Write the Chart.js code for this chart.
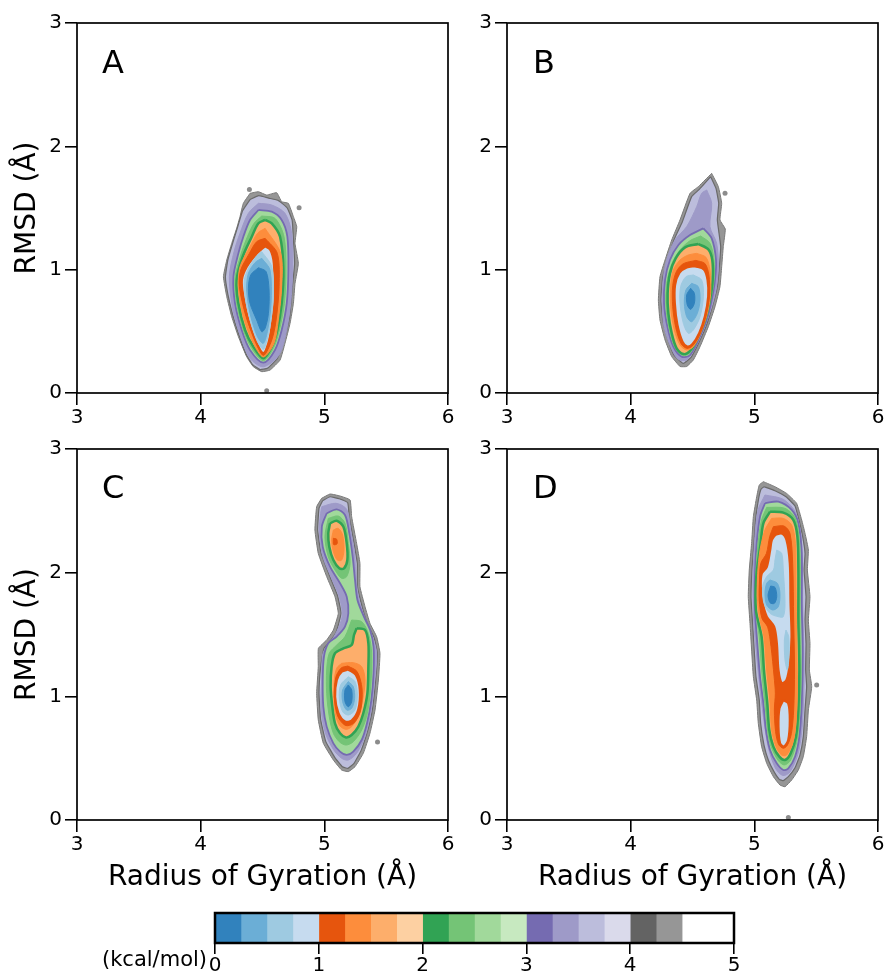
<!DOCTYPE html>
<html>
<head>
<meta charset="utf-8">
<script src="https://cdn.jsdelivr.net/npm/chart.js@4.4.1/dist/chart.umd.min.js"></script>
<style>
html,body{margin:0;padding:0;background:#fff;}
body{width:889px;height:979px;position:relative;overflow:hidden;font-family:"DejaVu Sans",sans-serif;color:#000;}
canvas{position:absolute;}
.lbl{position:absolute;font-size:32px;line-height:32px;white-space:nowrap;}
.unit{position:absolute;font-size:21px;line-height:24px;white-space:nowrap;}
</style>
</head>
<body>
<canvas id="cA" width="460" height="430" style="left:0;top:0"></canvas>
<canvas id="cB" width="429" height="430" style="left:460px;top:0"></canvas>
<canvas id="cC" width="460" height="470" style="left:0;top:430px"></canvas>
<canvas id="cD" width="429" height="470" style="left:460px;top:430px"></canvas>
<canvas id="cbar" width="560" height="79" style="left:200px;top:900px"></canvas>
<div class="lbl" style="left:102px;top:46px">A</div>
<div class="lbl" style="left:533px;top:46px">B</div>
<div class="lbl" style="left:102px;top:471px">C</div>
<div class="lbl" style="left:533px;top:471px">D</div>
<div class="unit" style="left:102px;top:947px">(kcal/mol)</div>
<script>
// ---------------- data ----------------
const xTicks = [3, 4, 5, 6];
const yTicks = [0, 1, 2, 3];
const cbTicks = [0, 1, 2, 3, 4, 5];
const xTitle = 'Radius of Gyration (Å)';
const yTitle = 'RMSD (Å)';

// free-energy band edges (kcal/mol) and their colours
const bandEdges = [0, 0.25, 0.5, 0.75, 1, 1.25, 1.5, 1.75, 2, 2.25, 2.5, 2.75, 3, 3.25, 3.5, 3.75, 4, 4.25, 4.5, 5];
const bandColors = ['#3182bd','#6baed6','#9ecae1','#c6dbef','#e6550d','#fd8d3c','#fdae6b','#fdd0a2',
                    '#31a354','#74c476','#a1d99b','#c7e9c0','#756bb1','#9e9ac8','#bcbddc','#dadaeb',
                    '#636363','#969696','#ffffff'];

// contour polygons: [level, [[Rg, RMSD], ...]]
const contoursA = [
  [4.5, [[4.399,1.619],[4.467,1.632],[4.534,1.605],[4.615,1.624],[4.655,1.551],[4.709,1.538],[4.750,1.430],[4.777,1.349],[4.763,1.213],[4.790,1.051],[4.763,0.889],[4.750,0.727],[4.723,0.565],[4.682,0.403],[4.642,0.267],[4.561,0.186],[4.494,0.173],[4.426,0.213],[4.372,0.294],[4.305,0.457],[4.251,0.619],[4.211,0.781],[4.184,0.943],[4.211,1.078],[4.251,1.213],[4.291,1.335],[4.318,1.430],[4.345,1.538]]],
  [3.75, [[4.40,1.57],[4.47,1.60],[4.55,1.58],[4.63,1.56],[4.70,1.50],[4.74,1.40],[4.75,1.25],[4.76,1.05],[4.74,0.85],[4.72,0.62],[4.67,0.42],[4.62,0.28],[4.54,0.20],[4.48,0.19],[4.42,0.23],[4.37,0.31],[4.31,0.47],[4.26,0.63],[4.22,0.80],[4.20,0.94],[4.22,1.08],[4.26,1.22],[4.30,1.35],[4.34,1.48]]],
  [3.5, [[4.467,1.538],[4.575,1.524],[4.682,1.457],[4.736,1.294],[4.744,0.997],[4.728,0.727],[4.690,0.484],[4.634,0.308],[4.507,0.213],[4.399,0.281],[4.318,0.470],[4.256,0.700],[4.232,0.943],[4.270,1.146],[4.318,1.295],[4.386,1.457]]],
  [2.75, [[4.467,1.484],[4.575,1.470],[4.655,1.403],[4.701,1.267],[4.709,0.997],[4.696,0.727],[4.655,0.511],[4.601,0.349],[4.507,0.246],[4.399,0.349],[4.332,0.511],[4.278,0.727],[4.265,0.943],[4.305,1.132],[4.345,1.267],[4.399,1.403]]],
  [2.5, [[4.494,1.435],[4.601,1.416],[4.674,1.267],[4.690,0.997],[4.677,0.727],[4.637,0.511],[4.588,0.362],[4.507,0.262],[4.413,0.362],[4.345,0.511],[4.291,0.727],[4.278,0.930],[4.324,1.119],[4.378,1.267],[4.432,1.376]]],
  [1.75, [[4.521,1.403],[4.575,1.376],[4.642,1.267],[4.669,0.997],[4.655,0.727],[4.620,0.511],[4.575,0.376],[4.507,0.281],[4.426,0.376],[4.359,0.511],[4.305,0.727],[4.291,0.916],[4.340,1.105],[4.413,1.267],[4.467,1.376]]],
  [1.5, [[4.521,1.335],[4.647,1.132],[4.655,0.862],[4.628,0.592],[4.593,0.403],[4.507,0.292],[4.426,0.403],[4.345,0.619],[4.305,0.862],[4.318,1.024],[4.399,1.186],[4.459,1.294]]],
  [1.25, [[4.521,1.254],[4.620,1.132],[4.634,0.862],[4.610,0.592],[4.575,0.430],[4.507,0.305],[4.440,0.430],[4.367,0.619],[4.313,0.862],[4.324,0.997],[4.394,1.132],[4.453,1.227]]],
  [1.0, [[4.521,1.192],[4.566,1.159],[4.593,1.051],[4.601,0.781],[4.575,0.538],[4.548,0.403],[4.507,0.322],[4.453,0.403],[4.386,0.592],[4.345,0.781],[4.332,0.916],[4.372,1.024],[4.453,1.132]]],
  [0.75, [[4.494,1.146],[4.575,1.024],[4.588,0.781],[4.561,0.538],[4.529,0.403],[4.507,0.354],[4.459,0.416],[4.399,0.592],[4.359,0.781],[4.353,0.916],[4.394,1.024],[4.453,1.111]]],
  [0.5, [[4.494,1.092],[4.561,0.997],[4.569,0.727],[4.542,0.511],[4.507,0.403],[4.459,0.457],[4.399,0.646],[4.372,0.835],[4.386,0.970],[4.440,1.057]]],
  [0.25, [[4.467,1.016],[4.529,0.984],[4.553,0.835],[4.548,0.646],[4.521,0.524],[4.494,0.497],[4.453,0.592],[4.399,0.727],[4.386,0.849],[4.405,0.957]]]
];
const dotsA = [[4.394,1.651],[4.796,1.503],[4.534,0.019]];

const contoursB = [
  [4.5, [[4.655,1.781],[4.709,1.673],[4.736,1.538],[4.722,1.403],[4.765,1.330],[4.749,1.187],[4.736,1.024],[4.722,0.862],[4.682,0.700],[4.628,0.538],[4.561,0.376],[4.507,0.268],[4.453,0.215],[4.399,0.215],[4.332,0.295],[4.278,0.430],[4.237,0.592],[4.224,0.754],[4.237,0.943],[4.278,1.078],[4.332,1.241],[4.399,1.403],[4.480,1.619],[4.547,1.673],[4.601,1.727]]],
  [3.75, [[4.647,1.754],[4.690,1.659],[4.712,1.538],[4.701,1.403],[4.728,1.187],[4.717,1.024],[4.701,0.862],[4.660,0.700],[4.609,0.538],[4.542,0.389],[4.488,0.289],[4.426,0.240],[4.350,0.308],[4.299,0.443],[4.259,0.597],[4.245,0.754],[4.259,0.938],[4.299,1.078],[4.350,1.241],[4.418,1.389],[4.493,1.592],[4.555,1.651],[4.604,1.705]]],
  [3.5, [[4.615,1.646],[4.655,1.538],[4.641,1.349],[4.695,1.214],[4.709,1.024],[4.690,0.835],[4.647,0.673],[4.588,0.511],[4.520,0.362],[4.453,0.268],[4.385,0.273],[4.323,0.376],[4.270,0.538],[4.255,0.727],[4.262,0.916],[4.291,1.078],[4.358,1.241],[4.453,1.349],[4.534,1.511],[4.574,1.619]]],
  [2.75, [[4.588,1.335],[4.655,1.254],[4.690,1.078],[4.682,0.916],[4.655,0.754],[4.614,0.592],[4.547,0.430],[4.480,0.308],[4.412,0.295],[4.345,0.376],[4.297,0.538],[4.270,0.727],[4.278,0.916],[4.318,1.078],[4.386,1.200],[4.480,1.281]]],
  [2.5, [[4.566,1.273],[4.641,1.214],[4.674,1.078],[4.674,0.916],[4.647,0.754],[4.606,0.592],[4.539,0.430],[4.477,0.322],[4.421,0.305],[4.358,0.370],[4.313,0.511],[4.286,0.700],[4.291,0.889],[4.334,1.051],[4.399,1.160],[4.480,1.235]]],
  [1.75, [[4.547,1.208],[4.628,1.165],[4.660,1.078],[4.663,0.916],[4.641,0.754],[4.601,0.592],[4.534,0.430],[4.474,0.335],[4.426,0.316],[4.372,0.362],[4.332,0.484],[4.305,0.646],[4.299,0.808],[4.318,0.970],[4.364,1.092],[4.440,1.181]]],
  [1.5, [[4.534,1.132],[4.609,1.100],[4.641,0.997],[4.647,0.808],[4.620,0.646],[4.566,0.484],[4.507,0.376],[4.453,0.349],[4.399,0.389],[4.353,0.511],[4.326,0.673],[4.323,0.862],[4.345,0.997],[4.399,1.078],[4.466,1.119]]],
  [1.25, [[4.527,1.075],[4.600,1.050],[4.632,0.960],[4.638,0.795],[4.610,0.632],[4.560,0.478],[4.503,0.385],[4.455,0.362],[4.408,0.400],[4.365,0.530],[4.340,0.700],[4.340,0.870],[4.370,0.985],[4.425,1.048]]],
  [1.0, [[4.520,1.030],[4.593,1.003],[4.623,0.916],[4.628,0.781],[4.601,0.619],[4.555,0.484],[4.501,0.397],[4.458,0.376],[4.418,0.416],[4.377,0.551],[4.356,0.727],[4.358,0.876],[4.394,0.976],[4.453,1.019]]],
  [0.75, [[4.507,0.957],[4.574,0.916],[4.588,0.781],[4.561,0.619],[4.507,0.511],[4.466,0.484],[4.426,0.565],[4.399,0.727],[4.404,0.862],[4.447,0.943]]],
  [0.5, [[4.493,0.889],[4.547,0.862],[4.561,0.754],[4.539,0.646],[4.493,0.578],[4.453,0.619],[4.434,0.727],[4.447,0.835]]],
  [0.25, [[4.485,0.849],[4.515,0.808],[4.515,0.727],[4.485,0.678],[4.458,0.714],[4.453,0.795]]]
];
const dotsB = [[4.763,1.619]];

const contoursC = [
  [4.5, [[4.978,2.601],[5.046,2.636],[5.127,2.620],[5.208,2.588],[5.221,2.453],[5.261,2.237],[5.288,2.075],[5.288,1.887],[5.329,1.725],[5.369,1.590],[5.423,1.482],[5.450,1.348],[5.437,1.132],[5.410,0.889],[5.369,0.701],[5.315,0.539],[5.248,0.431],[5.194,0.391],[5.140,0.404],[5.073,0.485],[4.992,0.620],[4.951,0.809],[4.938,1.024],[4.951,1.240],[4.952,1.388],[5.019,1.456],[5.073,1.536],[5.113,1.671],[5.086,1.806],[5.019,1.968],[4.951,2.156],[4.924,2.345],[4.938,2.534]]],
  [3.75, [[4.986,2.582],[5.046,2.614],[5.121,2.598],[5.189,2.566],[5.202,2.448],[5.240,2.237],[5.267,2.075],[5.267,1.887],[5.307,1.720],[5.348,1.585],[5.402,1.477],[5.429,1.348],[5.415,1.132],[5.388,0.889],[5.348,0.714],[5.297,0.561],[5.240,0.458],[5.191,0.418],[5.146,0.431],[5.084,0.507],[5.011,0.636],[4.970,0.814],[4.957,1.024],[4.970,1.235],[4.997,1.388],[5.038,1.434],[5.094,1.515],[5.135,1.671],[5.105,1.819],[5.040,1.981],[4.973,2.162],[4.946,2.345],[4.957,2.520]]],
  [3.5, [[4.980,2.534],[5.094,2.561],[5.181,2.512],[5.213,2.345],[5.245,2.156],[5.256,1.941],[5.285,1.765],[5.335,1.617],[5.385,1.496],[5.423,1.348],[5.402,1.078],[5.375,0.863],[5.329,0.674],[5.261,0.539],[5.194,0.485],[5.140,0.499],[5.073,0.571],[5.005,0.714],[4.973,0.916],[4.978,1.132],[4.986,1.334],[5.024,1.415],[5.086,1.496],[5.145,1.650],[5.120,1.806],[5.060,1.950],[4.984,2.143],[4.960,2.345],[4.970,2.480]]],
  [2.75, [[5.019,2.480],[5.100,2.512],[5.167,2.466],[5.202,2.318],[5.229,2.129],[5.248,1.941],[5.268,1.779],[5.320,1.644],[5.370,1.536],[5.398,1.402],[5.398,1.186],[5.380,0.970],[5.345,0.782],[5.302,0.647],[5.234,0.553],[5.181,0.526],[5.127,0.553],[5.073,0.620],[5.019,0.755],[4.992,0.916],[4.987,1.132],[4.997,1.321],[5.032,1.429],[5.100,1.483],[5.167,1.563],[5.194,1.671],[5.181,1.806],[5.127,1.914],[5.046,2.048],[4.987,2.210],[4.980,2.372]]],
  [2.5, [[5.032,2.439],[5.113,2.458],[5.167,2.399],[5.194,2.237],[5.208,2.075],[5.181,1.968],[5.140,1.954],[5.086,2.022],[5.032,2.129],[5.005,2.291]]],
  [2.5, [[5.221,1.617],[5.302,1.604],[5.356,1.509],[5.383,1.348],[5.375,1.078],[5.348,0.863],[5.302,0.728],[5.234,0.633],[5.175,0.606],[5.121,0.633],[5.073,0.701],[5.040,0.836],[5.019,1.024],[5.019,1.213],[5.040,1.348],[5.100,1.415],[5.167,1.483]]],
  [1.75, [[5.046,2.399],[5.100,2.420],[5.154,2.372],[5.181,2.237],[5.186,2.102],[5.159,2.035],[5.121,2.035],[5.073,2.102],[5.040,2.210],[5.032,2.318]]],
  [1.75, [[5.261,1.550],[5.329,1.536],[5.356,1.429],[5.356,1.240],[5.348,1.024],[5.315,0.863],[5.275,0.755],[5.221,0.687],[5.175,0.668],[5.127,0.701],[5.086,0.782],[5.065,0.916],[5.051,1.078],[5.059,1.240],[5.086,1.348],[5.154,1.388],[5.221,1.415],[5.240,1.496]]],
  [1.5, [[5.073,2.345],[5.113,2.358],[5.148,2.305],[5.159,2.183],[5.140,2.102],[5.105,2.102],[5.073,2.170],[5.059,2.264]]],
  [1.5, [[5.140,1.267],[5.234,1.272],[5.302,1.240],[5.329,1.132],[5.310,0.970],[5.275,0.836],[5.221,0.755],[5.175,0.733],[5.127,0.760],[5.094,0.836],[5.078,0.970],[5.081,1.132],[5.100,1.227]]],
  [1.25, [[5.073,2.278],[5.100,2.270],[5.102,2.232],[5.075,2.228]]],
  [1.25, [[5.190,1.245],[5.265,1.200],[5.305,1.060],[5.292,0.880],[5.235,0.780],[5.170,0.765],[5.108,0.840],[5.082,0.990],[5.092,1.150],[5.135,1.228]]],
  [1.0, [[5.194,1.218],[5.256,1.173],[5.288,1.051],[5.275,0.890],[5.221,0.803],[5.167,0.795],[5.113,0.863],[5.086,0.997],[5.100,1.132],[5.140,1.200]]],
  [0.75, [[5.194,1.159],[5.248,1.119],[5.267,1.011],[5.248,0.890],[5.194,0.849],[5.148,0.876],[5.121,0.984],[5.132,1.092]]],
  [0.5, [[5.194,1.119],[5.234,1.078],[5.245,0.984],[5.221,0.903],[5.181,0.889],[5.148,0.957],[5.148,1.051]]],
  [0.25, [[5.194,1.092],[5.221,1.051],[5.221,0.957],[5.194,0.916],[5.167,0.957],[5.167,1.051]]]
];
const dotsC = [[5.430,0.630]];

const contoursD = [
  [4.5, [[5.073,2.736],[5.167,2.695],[5.261,2.641],[5.342,2.561],[5.383,2.426],[5.410,2.318],[5.437,2.183],[5.429,2.021],[5.450,1.806],[5.437,1.617],[5.450,1.428],[5.445,1.213],[5.464,1.078],[5.437,0.889],[5.423,0.674],[5.396,0.512],[5.356,0.404],[5.302,0.323],[5.248,0.269],[5.207,0.283],[5.154,0.350],[5.100,0.458],[5.059,0.593],[5.032,0.782],[5.019,0.970],[4.992,1.159],[4.978,1.375],[4.965,1.590],[4.951,1.806],[4.959,2.021],[4.978,2.237],[4.992,2.453],[5.019,2.614],[5.040,2.709]]],
  [3.75, [[5.078,2.695],[5.167,2.663],[5.256,2.614],[5.329,2.539],[5.364,2.412],[5.391,2.291],[5.410,2.156],[5.402,2.021],[5.418,1.806],[5.410,1.617],[5.418,1.428],[5.415,1.213],[5.423,1.078],[5.410,0.889],[5.396,0.674],[5.369,0.525],[5.329,0.423],[5.275,0.350],[5.234,0.318],[5.202,0.329],[5.159,0.391],[5.113,0.485],[5.078,0.606],[5.051,0.782],[5.040,0.970],[5.013,1.159],[4.999,1.375],[4.986,1.590],[4.973,1.806],[4.981,2.021],[4.997,2.237],[5.013,2.453],[5.035,2.601],[5.054,2.674]]],
  [3.5, [[5.086,2.628],[5.234,2.593],[5.337,2.480],[5.383,2.237],[5.391,1.752],[5.402,1.213],[5.391,0.808],[5.360,0.560],[5.290,0.390],[5.230,0.360],[5.170,0.420],[5.110,0.600],[5.065,0.900],[5.030,1.213],[4.995,1.617],[4.989,1.968],[5.005,2.291],[5.030,2.507]]],
  [2.75, [[5.086,2.561],[5.194,2.574],[5.302,2.507],[5.356,2.399],[5.383,2.156],[5.383,1.752],[5.391,1.348],[5.383,0.943],[5.364,0.674],[5.329,0.512],[5.275,0.418],[5.234,0.404],[5.181,0.458],[5.127,0.566],[5.094,0.728],[5.073,0.943],[5.046,1.159],[5.024,1.428],[5.005,1.698],[5.005,1.968],[5.019,2.237],[5.046,2.453]]],
  [2.5, [[5.100,2.528],[5.248,2.520],[5.337,2.426],[5.369,2.156],[5.369,1.617],[5.377,1.078],[5.350,0.674],[5.294,0.485],[5.240,0.445],[5.181,0.498],[5.120,0.647],[5.086,0.943],[5.059,1.213],[5.040,1.482],[5.011,1.698],[5.011,1.968],[5.030,2.237],[5.059,2.426]]],
  [1.75, [[5.127,2.493],[5.234,2.485],[5.315,2.426],[5.348,2.291],[5.356,2.021],[5.356,1.617],[5.364,1.213],[5.356,0.889],[5.337,0.674],[5.294,0.539],[5.248,0.485],[5.202,0.512],[5.154,0.593],[5.121,0.728],[5.105,0.943],[5.078,1.213],[5.059,1.482],[5.013,1.698],[5.016,1.968],[5.051,2.237],[5.073,2.399]]],
  [1.5, [[5.140,2.439],[5.234,2.439],[5.302,2.385],[5.332,2.237],[5.337,1.887],[5.342,1.482],[5.348,1.078],[5.337,0.782],[5.310,0.620],[5.261,0.525],[5.221,0.525],[5.175,0.593],[5.140,0.728],[5.127,0.943],[5.100,1.213],[5.078,1.482],[5.040,1.644],[5.024,1.806],[5.027,1.994],[5.046,2.183],[5.086,2.345]]],
  [1.25, [[5.154,2.372],[5.240,2.377],[5.288,2.318],[5.310,2.075],[5.318,1.617],[5.325,1.213],[5.318,0.889],[5.300,0.701],[5.267,0.605],[5.234,0.580],[5.196,0.612],[5.172,0.714],[5.162,0.889],[5.170,1.024],[5.160,1.159],[5.135,1.402],[5.108,1.560],[5.062,1.630],[5.040,1.779],[5.042,1.941],[5.052,2.075],[5.098,2.156],[5.124,2.291]]],
  [1.0, [[5.167,2.305],[5.221,2.318],[5.261,2.264],[5.288,2.075],[5.294,1.752],[5.302,1.482],[5.288,1.267],[5.261,1.132],[5.221,1.105],[5.194,1.213],[5.181,1.428],[5.159,1.563],[5.100,1.644],[5.067,1.752],[5.051,1.887],[5.059,1.994],[5.100,2.048],[5.127,2.183],[5.140,2.264]]],
  [1.0, [[5.234,0.970],[5.275,0.943],[5.288,0.808],[5.275,0.647],[5.240,0.593],[5.207,0.620],[5.194,0.755],[5.202,0.903]]],
  [0.75, [[5.181,2.183],[5.221,2.156],[5.234,2.021],[5.248,1.752],[5.234,1.644],[5.194,1.644],[5.127,1.671],[5.078,1.752],[5.067,1.887],[5.100,1.968],[5.154,2.021],[5.167,2.102]]],
  [0.75, [[5.256,1.536],[5.278,1.482],[5.280,1.321],[5.267,1.213],[5.248,1.294],[5.243,1.455]]],
  [0.5, [[5.127,1.941],[5.186,1.914],[5.207,1.833],[5.194,1.725],[5.148,1.698],[5.100,1.738],[5.086,1.833],[5.100,1.914]]],
  [0.25, [[5.132,1.892],[5.167,1.881],[5.181,1.806],[5.162,1.752],[5.127,1.757],[5.111,1.819]]]
];
const dotsD = [[5.275,0.021],[5.504,1.092]];

// ---------------- styling ----------------
const FONT = "'DejaVu Sans', sans-serif";
Chart.defaults.font.family = FONT;
Chart.defaults.color = '#000';

const edgeStyle = {4.5: ['#7a7a7a', 1], 3.75: ['#6a6a6a', 1.2], 2.75: ['#756bb1', 1.8], 1.75: ['#31a354', 2.5], 1.0: ['#e6550d', 2.5]};

function bandColor(level) {
  const i = bandEdges.indexOf(level);
  return bandColors[i - 1];
}

const framePlugin = {
  id: 'frame',
  afterDatasetsDraw(chart, args, opts) {
    const {ctx, chartArea: a} = chart;
    ctx.save();
    ctx.strokeStyle = '#000';
    ctx.lineWidth = opts.width || 1.5;
    ctx.strokeRect(a.left, a.top, a.right - a.left, a.bottom - a.top);
    ctx.restore();
  }
};

function tickGrid(len) {
  return {display: true, drawOnChartArea: false, drawTicks: true, tickLength: len, color: '#000', lineWidth: 1.6};
}

function makePanel(id, contours, dots, cfg) {
  const datasets = contours.map(([lvl, pts]) => {
    const fillColor = bandColor(lvl);
    const edge = edgeStyle[lvl];
    return {
      type: 'line',
      data: pts.concat([pts[0]]).map(([x, y]) => ({x, y})),
      backgroundColor: fillColor,
      borderColor: edge ? edge[0] : fillColor,
      borderWidth: edge ? edge[1] : 1,
      fill: 'shape',
      tension: lvl >= 3.75 ? 0.12 : 0.3,
      pointRadius: 0,
      pointHoverRadius: 0,
      order: lvl
    };
  });
  datasets.push({
    type: 'scatter',
    data: dots.map(([x, y]) => ({x, y})),
    backgroundColor: '#8c8c8c',
    borderWidth: 0,
    pointRadius: 2.5,
    order: -1
  });
  new Chart(document.getElementById(id), {
    type: 'line',
    data: {datasets},
    options: {
      responsive: false,
      animation: false,
      devicePixelRatio: 1,
      events: [],
      layout: {padding: cfg.pad},
      plugins: {legend: {display: false}, tooltip: {enabled: false}, frame: {width: 1.7}},
      scales: {
        x: {
          type: 'linear', min: 3, max: 6,
          afterBuildTicks: s => { s.ticks = xTicks.map(v => ({value: v})); },
          ticks: {font: {size: 20}, color: '#000', padding: 1, maxRotation: 0, autoSkip: false},
          grid: tickGrid(12),
          border: {display: false},
          title: {display: cfg.xTitle, text: xTitle, font: {size: 28}, color: '#000', padding: {top: 0, bottom: 5}},
          afterFit: s => { s.height = cfg.xH; s.paddingLeft = 0; s.paddingRight = 0; }
        },
        y: {
          type: 'linear', min: 0, max: 3,
          afterBuildTicks: s => { s.ticks = yTicks.map(v => ({value: v})); },
          ticks: {font: {size: 20}, color: '#000', padding: 3, autoSkip: false},
          grid: tickGrid(12),
          border: {display: false},
          title: {display: cfg.yTitle, text: yTitle, font: {size: 28}, color: '#000', padding: {top: 11, bottom: 0}},
          afterFit: s => { s.width = cfg.yW; s.paddingTop = 0; s.paddingBottom = 0; }
        }
      }
    },
    plugins: [framePlugin]
  });
}

makePanel('cA', contoursA, dotsA, {pad: {left: 0, top: 23, right: 12, bottom: 0}, xH: 37, yW: 77, xTitle: false, yTitle: true});
makePanel('cB', contoursB, dotsB, {pad: {left: 0, top: 23, right: 11, bottom: 0}, xH: 37, yW: 47, xTitle: false, yTitle: false});
makePanel('cC', contoursC, dotsC, {pad: {left: 0, top: 19, right: 12, bottom: 0}, xH: 80, yW: 77, xTitle: true, yTitle: true});
makePanel('cD', contoursD, dotsD, {pad: {left: 0, top: 19, right: 11, bottom: 0}, xH: 80, yW: 47, xTitle: true, yTitle: false});

// ---------------- colour bar ----------------
new Chart(document.getElementById('cbar'), {
  type: 'bar',
  data: {
    labels: ['kcal/mol'],
    datasets: bandColors.map((c, i) => ({
      data: [[bandEdges[i], bandEdges[i + 1]]],
      backgroundColor: c,
      borderWidth: 0,
      barPercentage: 1,
      categoryPercentage: 1,
      grouped: false
    }))
  },
  options: {
    indexAxis: 'y',
    responsive: false,
    animation: false,
    devicePixelRatio: 1,
    events: [],
    layout: {padding: {left: 15, right: 26, top: 13, bottom: 0}},
    plugins: {legend: {display: false}, tooltip: {enabled: false}, frame: {width: 2.5}},
    scales: {
      x: {
        type: 'linear', min: 0, max: 5,
        afterBuildTicks: s => { s.ticks = cbTicks.map(v => ({value: v})); },
        ticks: {font: {size: 20}, color: '#000', padding: 0, maxRotation: 0, autoSkip: false},
        grid: tickGrid(11),
        border: {display: false},
        afterFit: s => { s.height = 36; s.paddingLeft = 0; s.paddingRight = 0; }
      },
      y: {display: false}
    }
  },
  plugins: [framePlugin]
});
</script>
</body>
</html>
